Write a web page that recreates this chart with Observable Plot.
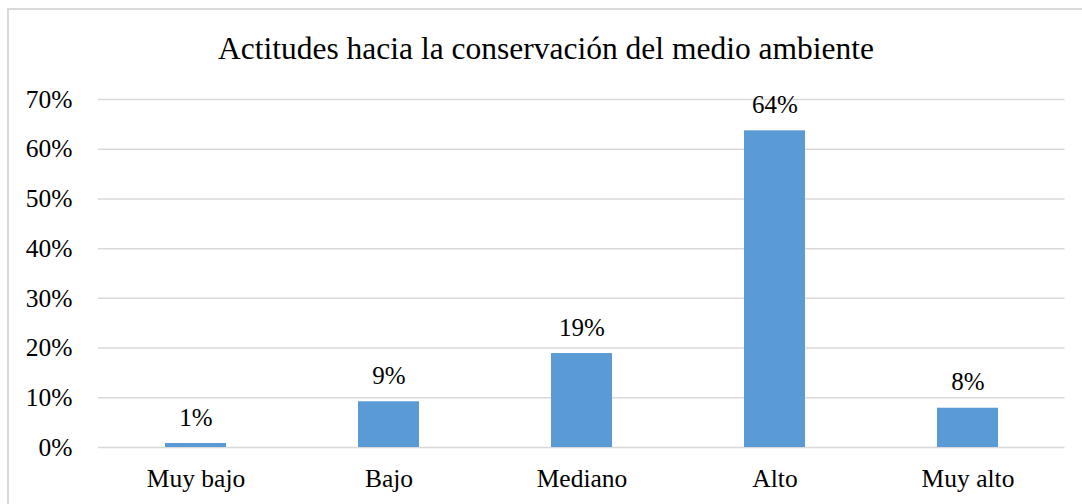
<!DOCTYPE html>
<html><head><meta charset="utf-8">
<script src="https://cdn.jsdelivr.net/npm/d3@7"></script>
<script src="https://cdn.jsdelivr.net/npm/@observablehq/plot@0.6"></script>
<style>
body{margin:0;background:#fff;}
#wrap{position:relative;width:1082px;height:504px;overflow:hidden;font-family:"Liberation Serif","Times New Roman",serif;}
#frame{position:absolute;left:7px;top:8px;width:1100px;height:520px;border-left:2px solid #d9d9d9;border-top:2px solid #d9d9d9;}
#title{position:absolute;left:0;width:1092px;top:34px;text-align:center;font-size:31.5px;line-height:30px;color:#000;white-space:nowrap;}
#chart{position:absolute;left:0;top:0;}
</style></head>
<body>
<div id="wrap"><div id="frame"></div><div id="title">Actitudes hacia la conservación del medio ambiente</div><div id="chart"></div></div>
<script>
const categories = ["Muy bajo","Bajo","Mediano","Alto","Muy alto"];
const values = [0.8, 9.2, 18.9, 63.7, 7.9];
const valueLabels = ["1%","9%","19%","64%","8%"];
const yTicks = [0,10,20,30,40,50,60,70];
const data = categories.map((c,i)=>({cat:c, v:values[i], label:valueLabels[i]}));

const chart = Plot.plot({
  width:1082, height:504,
  marginTop:99, marginBottom:57, marginLeft:98, marginRight:17.5,
  style:{fontFamily:'"Liberation Serif","Times New Roman",serif', fontSize:"25.5px", color:"#000", background:"transparent", overflow:"visible"},
  x:{domain:categories, paddingInner:0.684, paddingOuter:0.342, tickSize:0, tickPadding:21, label:null},
  y:{domain:[0,70], ticks:yTicks, tickFormat:d=>d+"%", tickSize:0, tickPadding:26, label:null},
  marks:[
    Plot.ruleY(yTicks,{stroke:"#d9d9d9", strokeWidth:1.5}),
    Plot.barY(data,{x:"cat", y:"v", fill:"#5b9bd5"}),
    Plot.text(data,{x:"cat", y:"v", text:"label", lineAnchor:"bottom", dy:-18, fontSize:25, fill:"#000"})
  ]
});
document.getElementById("chart").appendChild(chart);
</script>
</body></html>
